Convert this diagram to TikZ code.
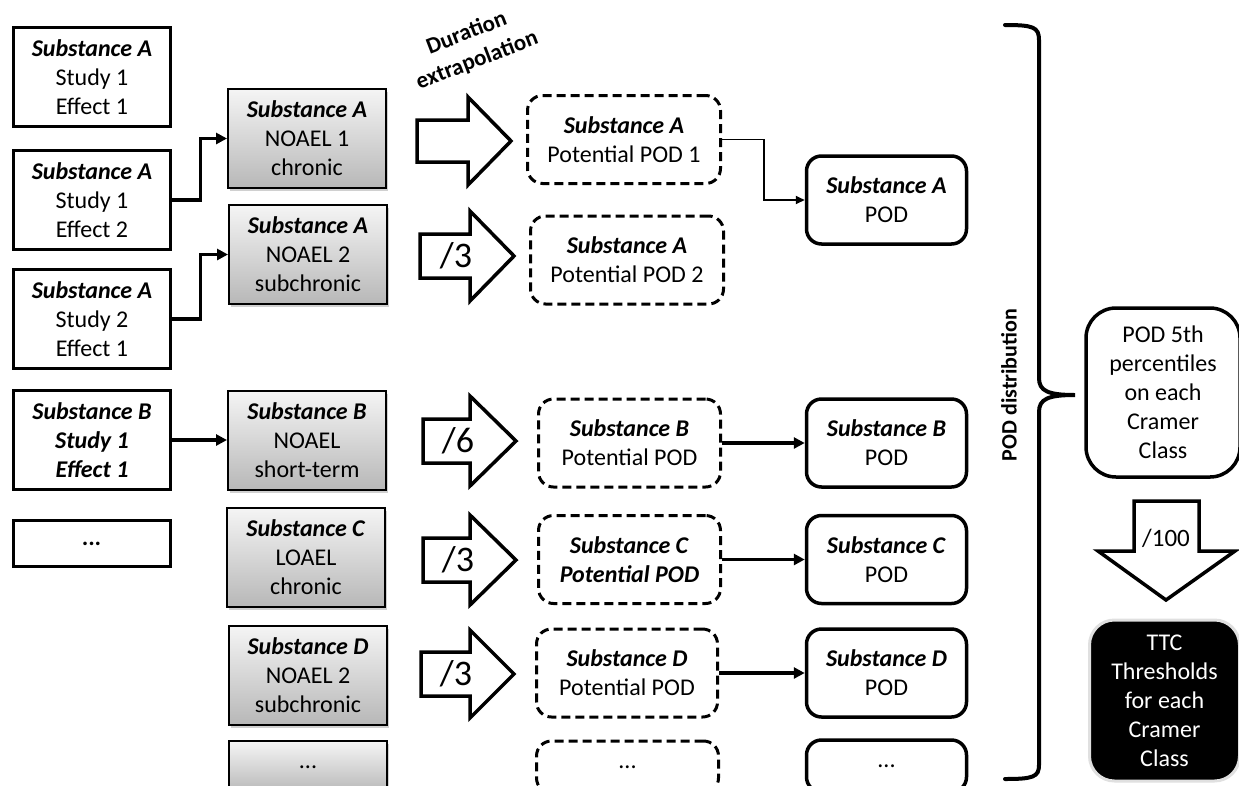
\documentclass[tikz,border=0pt]{standalone}
\usepackage{fontspec}
\setmainfont{Carlito}
\usetikzlibrary{arrows.meta,shadows,calc}
\newcommand\subst[1]{\textbf{\textit{#1}}}
\newcommand\rblock[6]{\draw[barrow] (#1,#3-#4) -- (#2,#3-#4) -- (#2,#3-#5) -- (#6,#3) -- (#2,#3+#5) -- (#2,#3+#4) -- (#1,#3+#4) -- cycle;}
\begin{document}
\begin{tikzpicture}[x=1pt,y=-1pt,
  txt/.style={align=center, inner sep=0pt, font=\fontsize{24}{29}\selectfont},
  wbox/.style={txt, draw, line width=3.5pt, minimum width=157pt, minimum height=99pt},
  gbox/.style={txt, draw, line width=2pt, minimum width=158pt, minimum height=99pt,
     top color=black!4, bottom color=black!28,
     drop shadow={shadow xshift=2pt, shadow yshift=-3pt, opacity=0.3, fill=black!60}},
  dbox/.style={txt, draw, line width=3pt, dash pattern=on 9pt off 5pt, rounded corners=15pt, minimum height=88pt},
  pbox/.style={txt, draw, line width=3.5pt, rounded corners=15pt, minimum width=160pt, minimum height=88pt},
  barrow/.style={draw, line width=3.5pt, fill=white, line join=miter},
  atext/.style={inner sep=0pt, font=\fontsize{36}{40}\selectfont},
  thick conn/.style={line width=3.5pt, -{Triangle[length=11pt,width=11pt]}},
  thin conn/.style={line width=1.8pt, -{Triangle[length=9pt,width=8pt]}}
]
\useasboundingbox (0,0) rectangle (1239,785);
\clip (0,0) rectangle (1239,785);
\fill[white] (0,0) rectangle (1239,785);

% left column
\node[wbox] (L1) at (92,77) {\subst{Substance A}\\Study 1\\Effect 1};
\node[wbox] (L2) at (92,200) {\subst{Substance A}\\Study 1\\Effect 2};
\node[wbox] (L3) at (92,319) {\subst{Substance A}\\Study 2\\Effect 1};
\node[wbox] (LB) at (92,440) {\subst{Substance B}\\\subst{Study 1}\\\subst{Effect 1}};
\node[wbox, minimum height=46pt] (LD) at (92,543.5) {\subst{...}};

% gray column
\node[gbox] (GA1) at (307,138.5) {\subst{Substance A}\\NOAEL 1\\chronic};
\node[gbox] (GA2) at (308,254.5) {\subst{Substance A}\\NOAEL 2\\subchronic};
\node[gbox] (GB) at (307,440) {\subst{Substance B}\\NOAEL\\short-term};
\node[gbox] (GC) at (306,557) {\subst{Substance C}\\LOAEL\\chronic};
\node[gbox] (GD) at (308,675) {\subst{Substance D}\\NOAEL 2\\subchronic};
\node[gbox, minimum height=52pt] (GE) at (308,767) {...};

% connectors left -> gray
\draw[thick conn] (L2.east) -- ++(28,0) |- (GA1.west);
\draw[thick conn] (L3.east) -- ++(28,0) |- (GA2.west);
\draw[thick conn] (LB.east) -- (GB.west);

% duration extrapolation label
\node[rotate=21, align=center, inner sep=0pt, font=\fontsize{23}{29}\selectfont\bfseries] (dur) at (472,47) {Duration\\extrapolation};

% block arrows
\rblock{417}{468}{141}{21}{44}{511}
\rblock{420}{470}{256}{22}{45}{514}
\node[atext] (t2) at (456,256) {/3};
\rblock{423}{470}{441}{22}{45}{516}
\node[atext] (t3) at (458,441) {/6};
\rblock{423}{470}{560}{22}{45}{516}
\node[atext] (t4) at (458,560) {/3};
\rblock{421}{470}{674}{22}{44}{514}
\node[atext] (t5) at (456,674) {/3};

% dashed boxes
\node[dbox, minimum width=193pt] (DA1) at (624,139.5) {\subst{Substance A}\\Potential POD 1};
\node[dbox, minimum width=193pt] (DA2) at (627,260) {\subst{Substance A}\\Potential POD 2};
\node[dbox, minimum width=182pt] (DB) at (629.5,443) {\subst{Substance B}\\Potential POD};
\node[dbox, minimum width=182pt] (DC) at (629.5,559.5) {\subst{Substance C}\\\subst{Potential POD}};
\node[dbox, minimum width=181pt] (DD) at (627,673) {\subst{Substance D}\\Potential POD};
\node[dbox, minimum width=182pt, minimum height=52pt] (DE) at (627.5,767) {...};

% POD boxes
\node[pbox] (PA) at (886.5,200) {\subst{Substance A}\\POD};
\node[pbox] (PB) at (886.5,443) {\subst{Substance B}\\POD};
\node[pbox] (PC) at (886.5,559.5) {\subst{Substance C}\\POD};
\node[pbox] (PD) at (886.5,673) {\subst{Substance D}\\POD};
\node[pbox, minimum height=52pt] (PE) at (886.5,766) {...};

% connectors dashed -> POD
\draw[thin conn] (DA1.east) -- ++(42,0) |- (PA.west);
\draw[thick conn] (DB.east) -- (PB.west);
\draw[thick conn] (DC.east) -- (PC.west);
\draw[thick conn] (DD.east) -- (PD.west);

% brace
\coordinate (btop) at (1005,25);
\coordinate (bmid) at (1075,395);
\coordinate (bbot) at (1005,779);
\draw[line width=4pt, line cap=round]
  (btop) .. controls (1033,25) and (1039,27) .. (1039,40)
  -- (1039,378) .. controls (1039,391) and (1048,395) .. (bmid)
  .. controls (1048,395) and (1039,399) .. (1039,412)
  -- (1039,765) .. controls (1039,777) and (1033,779) .. (bbot);
\node[rotate=90, inner sep=0pt, font=\fontsize{22}{26}\selectfont\bfseries] (dist) at (1009,385) {POD distribution};

% right column
\node[txt, draw, line width=3.5pt, rounded corners=30pt, minimum width=154pt, minimum height=169pt] (pct) at (1163,392.5)
  {POD 5th\\percentiles\\on each\\Cramer\\Class};
\draw[barrow] (1134,501) -- (1199,501) -- (1199,551) -- (1235,551) -- (1166,600) -- (1098,551) -- (1134,551) -- cycle;
\node[inner sep=0pt, font=\fontsize{25}{29}\selectfont] (t100) at (1166,538) {/100};
\node[txt, fill=black, text=white, draw=black!12, line width=3pt, rounded corners=25pt, minimum width=150pt, minimum height=161pt] (ttc) at (1164.5,700.5)
  {TTC\\Thresholds\\for each\\Cramer\\Class};
\end{tikzpicture}
\end{document}
